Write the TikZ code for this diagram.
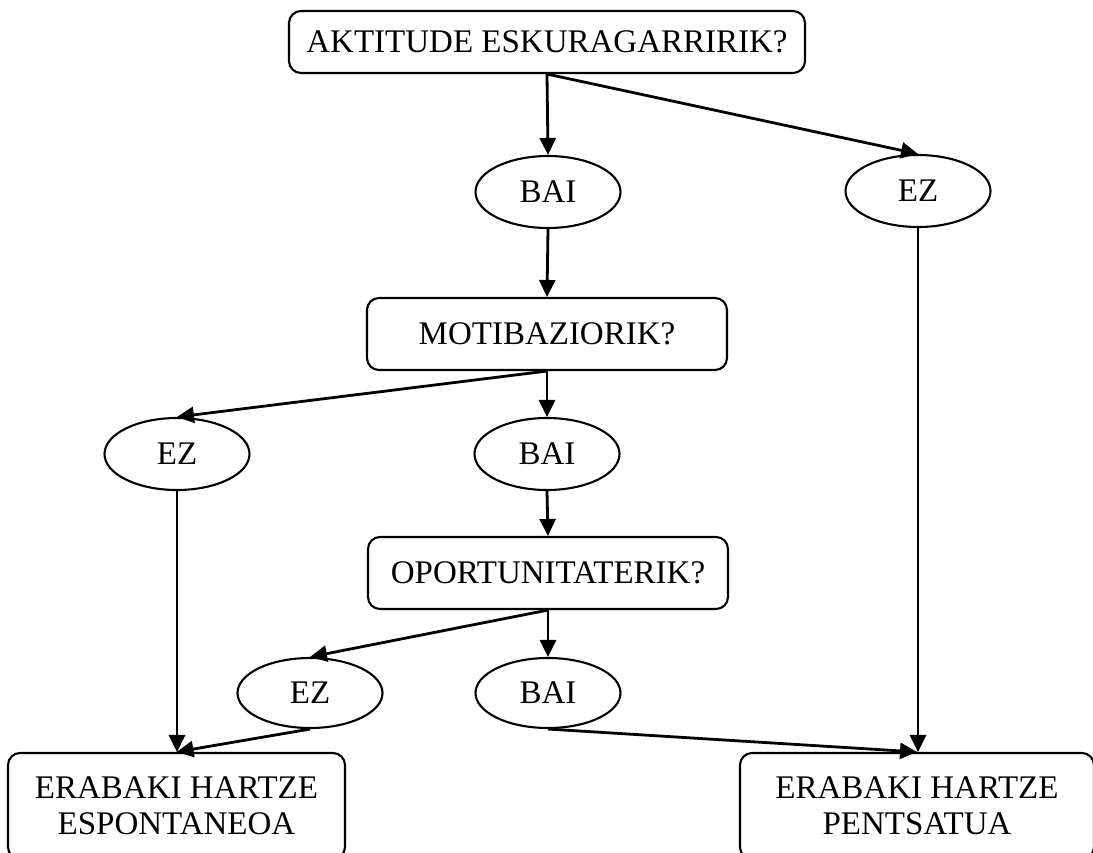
\documentclass[tikz,border=0pt]{standalone}
\usepackage{fontspec}
\setmainfont{Liberation Serif}
\usetikzlibrary{arrows.meta,shapes.geometric}

\tikzset{
  qbox/.style={draw, line width=2.1pt, rounded corners=12pt, inner sep=0pt,
    font=\fontsize{33}{35.5}\selectfont, align=center},
  answer/.style={draw, ellipse, line width=2.1pt, inner sep=0pt,
    minimum width=145pt, minimum height=72pt, font=\fontsize{33}{35.5}\selectfont},
  link/.style={line width=2.8pt, -{Triangle[length=17pt,width=16pt]}},
}

\begin{document}
\begin{tikzpicture}[x=1pt,y=-1pt]
  \clip (0,0) rectangle (1093,852);
  \fill[white] (0,0) rectangle (1093,852);

  % questions
  \node[qbox, minimum width=516pt, minimum height=62pt] (aktitude) at (547,42) {AKTITUDE ESKURAGARRIRIK?};
  \node[qbox, minimum width=360pt, minimum height=72pt] (motib) at (547,334) {MOTIBAZIORIK?};
  \node[qbox, minimum width=360pt, minimum height=72pt] (oport) at (548,573) {OPORTUNITATERIK?};

  % answers
  \node[answer] (bai1) at (548,192) {BAI};
  \node[answer] (ez1) at (918,191) {EZ};
  \node[answer] (ez2) at (177,454) {EZ};
  \node[answer] (bai2) at (547,454) {BAI};
  \node[answer, minimum height=70pt] (ez3) at (310,693) {EZ};
  \node[answer, minimum height=70pt] (bai3) at (548,693) {BAI};

  % outcomes
  \node[qbox, minimum width=337pt, minimum height=106pt] (spont) at (176.5,806) {ERABAKI HARTZE\\ESPONTANEOA};
  \node[qbox, minimum width=354pt, minimum height=106pt] (pents) at (917,806) {ERABAKI HARTZE\\PENTSATUA};

  % connectors
  \draw[link] (aktitude.south) -- (bai1.north);
  \draw[link] (aktitude.south) -- (ez1.north);
  \draw[link] (bai1.south) -- (motib.north);
  \draw[link] (motib.south) -- (ez2.north);
  \draw[link] (motib.south) -- (bai2.north);
  \draw[link] (bai2.south) -- (oport.north);
  \draw[link] (oport.south) -- (ez3.north);
  \draw[link] (oport.south) -- (bai3.north);
  \draw[link] (ez2.south) -- (ez2.south |- spont.north);
  \draw[link] (ez3.south) -- (spont.north);
  \draw[link] (ez1.south) -- (ez1.south |- pents.north);
  \draw[link] (bai3.south) -- (pents.north);
\end{tikzpicture}
\end{document}
